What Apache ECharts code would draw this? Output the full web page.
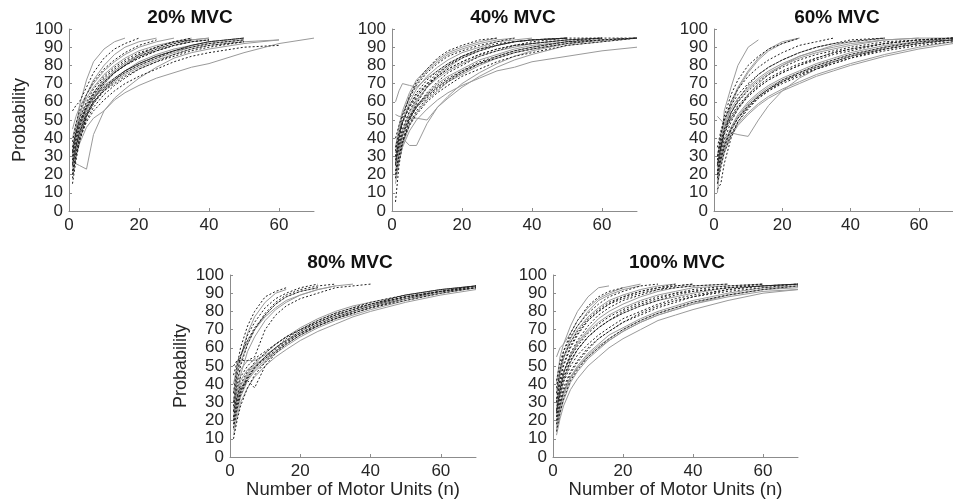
<!DOCTYPE html>
<html><head><meta charset="utf-8">
<script src="https://cdn.jsdelivr.net/npm/echarts@6/dist/echarts.min.js"></script>
<style>html,body{margin:0;padding:0;background:#fff}#c{width:953px;height:502px}</style>
</head><body><div id="c"></div>
<script>
// x positions (number of motor units) at which each curve was read
const xGrid = [1,2,3,5,7,10,13,16,20,25,30,35,40,50,60,70];
const panelTitles = ['20% MVC','40% MVC','60% MVC','80% MVC','100% MVC'];
const xTicks = [0,20,40,60];
const yTicks = [0,10,20,30,40,50,60,70,80,90,100];

// 20% MVC
const p20Solid = [
 [28,45,58,72,82,89,93,95],
 [30,42,52,64,72,80,86,90,93,95],
 [25,36,44,55,62,70,76,80,85,89,92,94,95],
 [22,33,41,52,59,67,73,77,82,86,89,91,93,95],
 [28,26,25,23,42,55,62,67,73,79,84,87,89,92,94],
 [20,30,37,46,51,55,61,65,69,73,76,79,81,87,92,95],
 [35,45,51,59,65,72,77,81,85,88,91,93,94],
 [40,48,54,62,68,75,80,84,88,91,93,95],
 [32,41,48,57,63,69,73,77,81,85,88,90,92,94],
 [45,52,57,64,70,77,82,86,90,93,95],
 [24,34,42,53,60,66,71,75,79,83,86,89,91,93,94],
 [30,40,47,56,62,68,72,76,80,84,87,90,92,94],
 [26,37,45,56,63,71,77,81,86,90,93,94,95]
];
const p20Dashed = [
 [55,58,60,68,76,84,89,92,95],
 [15,28,38,52,61,70,76,80,85,89,92,94],
 [30,40,47,57,64,71,76,80,84,88,91,93,94],
 [26,36,43,53,60,67,72,77,81,85,88,91,93,95],
 [33,44,51,60,67,74,79,83,87,90,93,94],
 [20,31,39,50,57,64,69,73,78,82,86,89,91,93],
 [22,32,39,49,55,61,66,70,74,78,82,85,87,90,91],
 [38,48,55,64,71,78,83,87,91,94],
 [28,38,46,57,64,71,76,80,84,88,91,93,94],
 [35,43,49,57,62,68,73,77,81,85,88,91,93,95],
 [25,35,43,54,60,66,70,74,78,82,85,88,90,93],
 [32,42,49,58,65,73,78,82,86,90,93,95],
 [18,30,40,52,59,66,72,76,80,84,88,90,92,94]
];
// 40% MVC
const p40Solid = [
 [60,66,70,69,68,73,77,81,85,88,91,93,94,95],
 [15,27,35,44,50,56,61,65,69,73,77,79,82,85,88,90],
 [53,52,52,51,51,50,57,62,68,74,79,83,86,91,93,95],
 [30,35,40,36,36,48,57,63,70,76,81,85,88,92,94,95],
 [25,36,44,54,61,68,73,77,81,85,88,90,92,94,95],
 [20,32,41,52,60,68,74,79,84,88,91,93,94,95],
 [28,40,49,60,67,74,79,83,87,90,93,94,95],
 [18,28,36,47,54,61,66,71,75,80,84,87,89,92,94,95],
 [22,33,41,51,58,64,70,74,78,83,86,89,91,93,94,95],
 [32,44,53,63,70,77,82,86,89,92,94,95],
 [26,35,42,51,57,63,68,72,76,81,84,87,89,92,94,95],
 [35,47,55,65,72,78,83,87,90,93,95]
];
const p40Dashed = [
 [25,40,51,63,71,78,84,88,91,94,95],
 [30,40,48,58,65,72,77,81,85,89,91,93,94,95],
 [20,30,38,48,55,62,67,71,76,81,84,87,89,92,94,95],
 [28,36,43,52,58,64,69,73,77,82,85,88,90,93,95,95],
 [35,43,49,57,63,69,74,78,82,86,89,91,92,94,95],
 [5,25,37,50,59,68,75,80,85,89,92,93,94,95],
 [22,31,38,47,53,60,65,69,74,78,82,85,87,91,93,95],
 [40,47,53,62,69,76,81,85,88,91,93,95],
 [26,35,42,51,57,63,68,72,77,81,85,88,90,93,94,95],
 [30,38,45,55,62,70,76,80,84,88,91,93,94,95],
 [18,30,39,50,57,65,71,76,80,85,88,91,92,94,95],
 [33,42,49,58,64,70,74,78,82,86,89,91,93,95,95]
];
// 60% MVC
const p60Solid = [
 [10,30,55,68,80,90,94],
 [20,35,45,58,67,76,83,88,92,95],
 [25,38,48,60,68,77,84,89,93,95],
 [52,50,48,50,56,64,70,75,80,85,88,91,93,95],
 [15,26,34,44,51,58,63,67,71,76,79,82,85,89,92,94],
 [18,27,34,42,48,54,59,63,67,71,75,78,81,86,90,93],
 [20,30,37,46,52,59,64,68,72,76,80,83,86,90,93,95],
 [22,33,40,43,42,41,50,58,66,73,78,82,85,90,93,95],
 [18,28,36,46,53,60,65,69,73,77,81,84,87,91,93,94],
 [25,36,44,54,60,67,72,76,80,84,87,89,91,94,95],
 [30,40,47,56,62,68,73,77,81,85,88,90,92,94,95,95],
 [16,25,32,41,47,53,58,62,66,70,74,77,80,85,89,92]
];
const p60Dashed = [
 [28,42,52,64,72,80,85,89,92,95],
 [15,24,32,42,49,56,62,66,71,75,79,82,85,89,92,94],
 [30,38,45,54,60,66,71,75,79,83,86,88,90,93,94,95],
 [12,15,26,40,49,57,63,67,72,76,80,83,86,90,93,94],
 [20,31,39,49,56,63,68,72,76,80,84,87,89,92,94,95],
 [25,35,42,51,57,63,68,72,76,80,83,86,88,92,94,95],
 [35,44,50,58,64,70,75,79,83,87,90,92,93,95],
 [18,28,35,45,51,58,63,67,71,75,78,81,84,88,91,93],
 [22,34,43,54,61,69,75,79,83,87,90,92,94,95],
 [30,42,50,60,67,74,79,83,87,91,93,95],
 [20,29,36,45,51,57,62,66,70,74,78,81,84,89,92,94],
 [26,36,43,52,58,64,69,73,77,81,84,87,89,92,94,95]
];
// 80% MVC
const p80Solid = [
 [40,50,55,68,77,85,90,92],
 [30,45,52,62,70,78,84,88,91,93],
 [20,35,45,58,66,75,81,85,89,92,94,95],
 [15,25,33,42,47,52,57,61,66,71,75,78,81,86,90,93],
 [20,30,37,45,50,55,60,64,68,73,77,80,83,87,91,94],
 [12,22,30,38,44,50,55,59,64,69,73,77,80,85,89,92],
 [25,35,42,48,51,54,58,62,67,72,76,79,82,87,90,93],
 [30,42,48,53,53,56,60,64,69,74,78,81,84,88,91,93],
 [18,28,35,43,48,53,58,62,67,72,76,80,83,88,91,94],
 [22,32,39,46,51,57,62,66,71,76,80,83,85,89,92,94],
 [35,48,55,64,70,77,82,86,89,92,94]
];
const p80Dashed = [
 [35,50,60,72,80,88,91,93],
 [25,40,50,62,70,79,85,89,92,94,95],
 [45,52,56,64,71,78,84,88,91,93],
 [50,53,53,53,55,70,78,83,87,90,93,94,95],
 [18,28,36,44,49,54,59,63,68,72,76,79,82,86,90,93],
 [22,32,38,42,38,50,57,62,67,72,76,79,82,87,91,94],
 [10,20,28,38,45,52,58,63,68,73,77,80,83,88,91,94],
 [28,38,44,50,54,58,62,66,70,74,78,81,84,88,91,93],
 [16,26,34,43,49,55,60,64,69,74,78,81,84,89,92,94],
 [30,45,55,67,74,82,87,90,93,95],
 [20,30,36,44,49,55,60,65,70,75,79,82,85,89,92,94],
 [25,33,40,47,52,57,62,66,70,75,79,82,84,88,91,93]
];
// 100% MVC
const p100Solid = [
 [40,55,62,72,80,88,93,94],
 [30,45,55,65,72,80,86,89,92,94],
 [55,60,62,68,75,82,87,90,93,95],
 [25,38,46,56,63,70,76,80,84,88,91,93,94,95],
 [12,21,28,37,43,50,55,60,65,70,75,78,81,86,90,92],
 [15,24,31,41,47,54,59,64,69,74,78,81,84,89,92,94],
 [18,27,35,44,50,57,62,67,71,76,80,83,86,90,93,94],
 [20,29,36,44,49,55,60,64,69,74,78,81,84,88,91,92],
 [16,26,34,43,49,56,61,65,70,75,79,82,85,89,92,93],
 [28,38,46,55,62,69,74,78,82,86,89,91,93,94,95],
 [22,33,42,52,59,66,71,75,79,83,86,88,90,93,94,95],
 [35,46,54,63,70,77,82,86,89,92,94,95]
];
const p100Dashed = [
 [35,48,58,68,75,83,88,91,93],
 [42,52,58,66,72,79,84,88,91,94,95],
 [30,42,50,60,67,75,80,84,88,91,93,95],
 [20,30,38,47,53,60,65,69,74,78,82,85,88,91,93,95],
 [14,24,32,42,48,55,60,65,70,75,79,82,85,89,92,94],
 [22,33,41,50,56,62,67,71,76,80,84,87,89,92,94,95],
 [26,36,44,53,59,66,71,75,79,83,86,89,91,93,94,95],
 [30,40,47,55,61,68,73,77,81,85,88,90,92,94,95],
 [25,37,46,57,64,72,78,82,86,89,92,93,94,95],
 [32,43,51,61,68,75,80,84,87,90,92,94,95],
 [18,28,36,46,52,59,65,69,74,79,83,86,88,92,94,95],
 [38,48,55,63,69,76,81,85,88,91,93,94,95],
 [24,35,43,53,59,66,71,75,80,84,87,90,91,93,95]
];

const panels = [
 {solid:p20Solid, dashed:p20Dashed, left:69, top:29, width:245, yName:'Probability', xName:''},
 {solid:p40Solid, dashed:p40Dashed, left:392, top:29, width:245, yName:'', xName:''},
 {solid:p60Solid, dashed:p60Dashed, left:714, top:29, width:245, yName:'', xName:''},
 {solid:p80Solid, dashed:p80Dashed, left:230, top:275, width:246, yName:'Probability', xName:'Number of Motor Units (n)'},
 {solid:p100Solid, dashed:p100Dashed, left:553, top:275, width:245, yName:'', xName:'Number of Motor Units (n)'}
];
const titlePos = [[190,18],[513,18],[837,18],[350,263],[677,263]];

const FONT = 'Liberation Sans, Arial, sans-serif';
const TXT = '#262626';
const AX = '#8c8c8c';
const grid=[], xAxis=[], yAxis=[], series=[], graphic=[];
panels.forEach((p,i)=>{
  grid.push({left:p.left, top:p.top, width:p.width, height:182, containLabel:false});
  xAxis.push({type:'value', gridIndex:i, min:0, max:70, interval:20,
    name:p.xName, nameLocation:'middle', nameGap:22,
    nameTextStyle:{fontFamily:FONT, fontSize:18.5, color:TXT},
    axisLine:{show:true, lineStyle:{color:AX, width:1}},
    axisTick:{show:true, inside:true, length:3, lineStyle:{color:AX}},
    axisLabel:{fontFamily:FONT, fontSize:17, color:TXT, margin:6, showMaxLabel:false},
    splitLine:{show:false}});
  yAxis.push({type:'value', gridIndex:i, min:0, max:100, interval:10,
    name:p.yName, nameLocation:'middle', nameGap:40,
    nameTextStyle:{fontFamily:FONT, fontSize:18, color:TXT},
    axisLine:{show:true, lineStyle:{color:AX, width:1}},
    axisTick:{show:true, inside:true, length:3, lineStyle:{color:AX}},
    axisLabel:{fontFamily:FONT, fontSize:17, color:TXT, margin:6},
    splitLine:{show:false}});
  const mk = (ys)=>ys.map((y,j)=>[xGrid[j], y]);
  p.solid.forEach(ys=>series.push({type:'line', xAxisIndex:i, yAxisIndex:i, data:mk(ys),
    showSymbol:false, silent:true, lineStyle:{color:'#9a9a9a', width:1}}));
  p.dashed.forEach(ys=>series.push({type:'line', xAxisIndex:i, yAxisIndex:i, data:mk(ys),
    showSymbol:false, silent:true, lineStyle:{color:'#202020', width:1, type:[2,2]}}));
  graphic.push({type:'text', x:titlePos[i][0], y:titlePos[i][1],
    style:{text:panelTitles[i], font:'bold 19px '+FONT, fill:'#111', align:'center', verticalAlign:'middle'}});
});

const chart = echarts.init(document.getElementById('c'), null, {renderer:'canvas'});
chart.setOption({animation:false, backgroundColor:'#fff', grid, xAxis, yAxis, series, graphic});
</script></body></html>
